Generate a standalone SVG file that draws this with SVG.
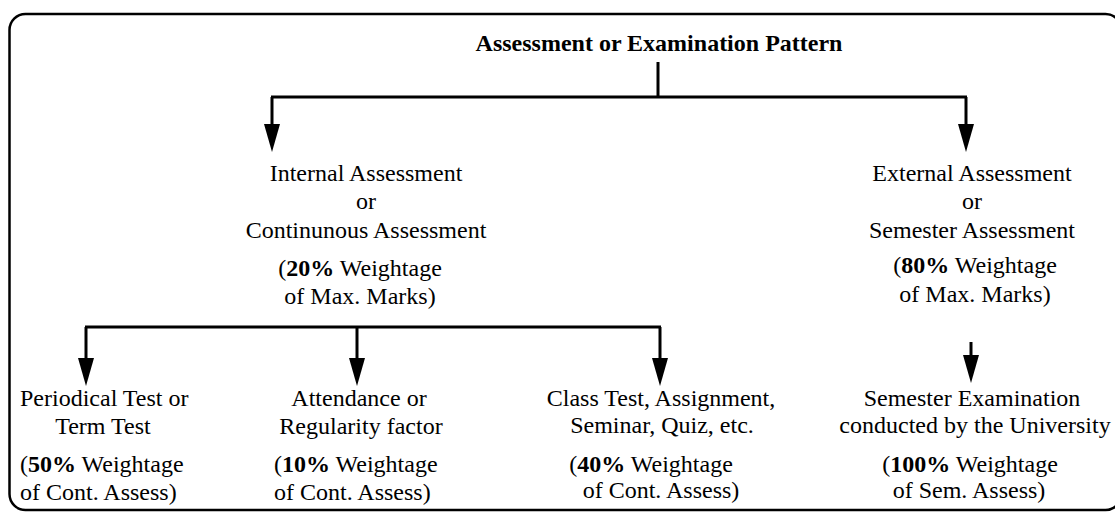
<svg xmlns="http://www.w3.org/2000/svg" width="1115" height="512" viewBox="0 0 1115 512">
<style>
text{font-family:"Liberation Serif","Times New Roman",serif;font-size:24px;fill:#000}
.m{text-anchor:middle}
.b{font-weight:bold}
.ln{stroke:#000;stroke-width:3;fill:none}
</style>
<defs>
<marker id="ah" markerUnits="userSpaceOnUse" markerWidth="28" markerHeight="16" refX="17" refY="8" orient="auto" viewBox="0 0 28 16">
<path d="M0,0 L28,8 L0,16 Z" fill="#000"/>
</marker>
</defs>
<rect x="9.5" y="14" width="1112" height="496" rx="16" fill="#fff" stroke="#000" stroke-width="2.5"/>
<g id="connectors">
<path class="ln" d="M658,62 V97"/>
<path class="ln" d="M271,97 H967"/>
<path class="ln" d="M272,97 V141" marker-end="url(#ah)"/>
<path class="ln" d="M966,97 V141" marker-end="url(#ah)"/>
<path class="ln" d="M85,327 H661"/>
<path class="ln" d="M86,327 V375" marker-end="url(#ah)"/>
<path class="ln" d="M357,327 V375" marker-end="url(#ah)"/>
<path class="ln" d="M660,327 V375" marker-end="url(#ah)"/>
<path class="ln" d="M971,342 V372" marker-end="url(#ah)"/>
</g>
<g id="root">
<text class="m b" x="659" y="51">Assessment or Examination Pattern</text>
</g>
<g id="internal">
<text class="m" x="366" y="181">Internal Assessment</text>
<text class="m" x="366" y="209">or</text>
<text class="m" x="366" y="238">Continunous Assessment</text>
<text class="m" x="360" y="276">(<tspan class="b">20%</tspan> Weightage</text>
<text class="m" x="360" y="304">of Max. Marks)</text>
</g>
<g id="external">
<text class="m" x="972" y="181">External Assessment</text>
<text class="m" x="972" y="209">or</text>
<text class="m" x="972" y="238">Semester Assessment</text>
<text class="m" x="975" y="273">(<tspan class="b">80%</tspan> Weightage</text>
<text class="m" x="975" y="302">of Max. Marks)</text>
</g>
<g id="periodical">
<text x="20" y="406">Periodical Test or</text>
<text class="m" x="103" y="434">Term Test</text>
<text x="20" y="472">(<tspan class="b">50%</tspan> Weightage</text>
<text x="20" y="500">of Cont. Assess)</text>
</g>
<g id="attendance">
<text class="m" x="359" y="406">Attendance or</text>
<text class="m" x="361" y="434">Regularity factor</text>
<text x="274" y="472">(<tspan class="b">10%</tspan> Weightage</text>
<text x="274" y="500">of Cont. Assess)</text>
</g>
<g id="classtest">
<text class="m" x="661" y="406">Class Test, Assignment,</text>
<text class="m" x="662" y="433">Seminar, Quiz, etc.</text>
<text class="m" x="651" y="472">(<tspan class="b">40%</tspan> Weightage</text>
<text class="m" x="661" y="498">of Cont. Assess)</text>
</g>
<g id="semester">
<text class="m" x="972" y="406">Semester Examination</text>
<text class="m" x="975" y="433">conducted by the University</text>
<text class="m" x="970" y="472">(<tspan class="b">100%</tspan> Weightage</text>
<text class="m" x="969" y="498">of Sem. Assess)</text>
</g>
</svg>
